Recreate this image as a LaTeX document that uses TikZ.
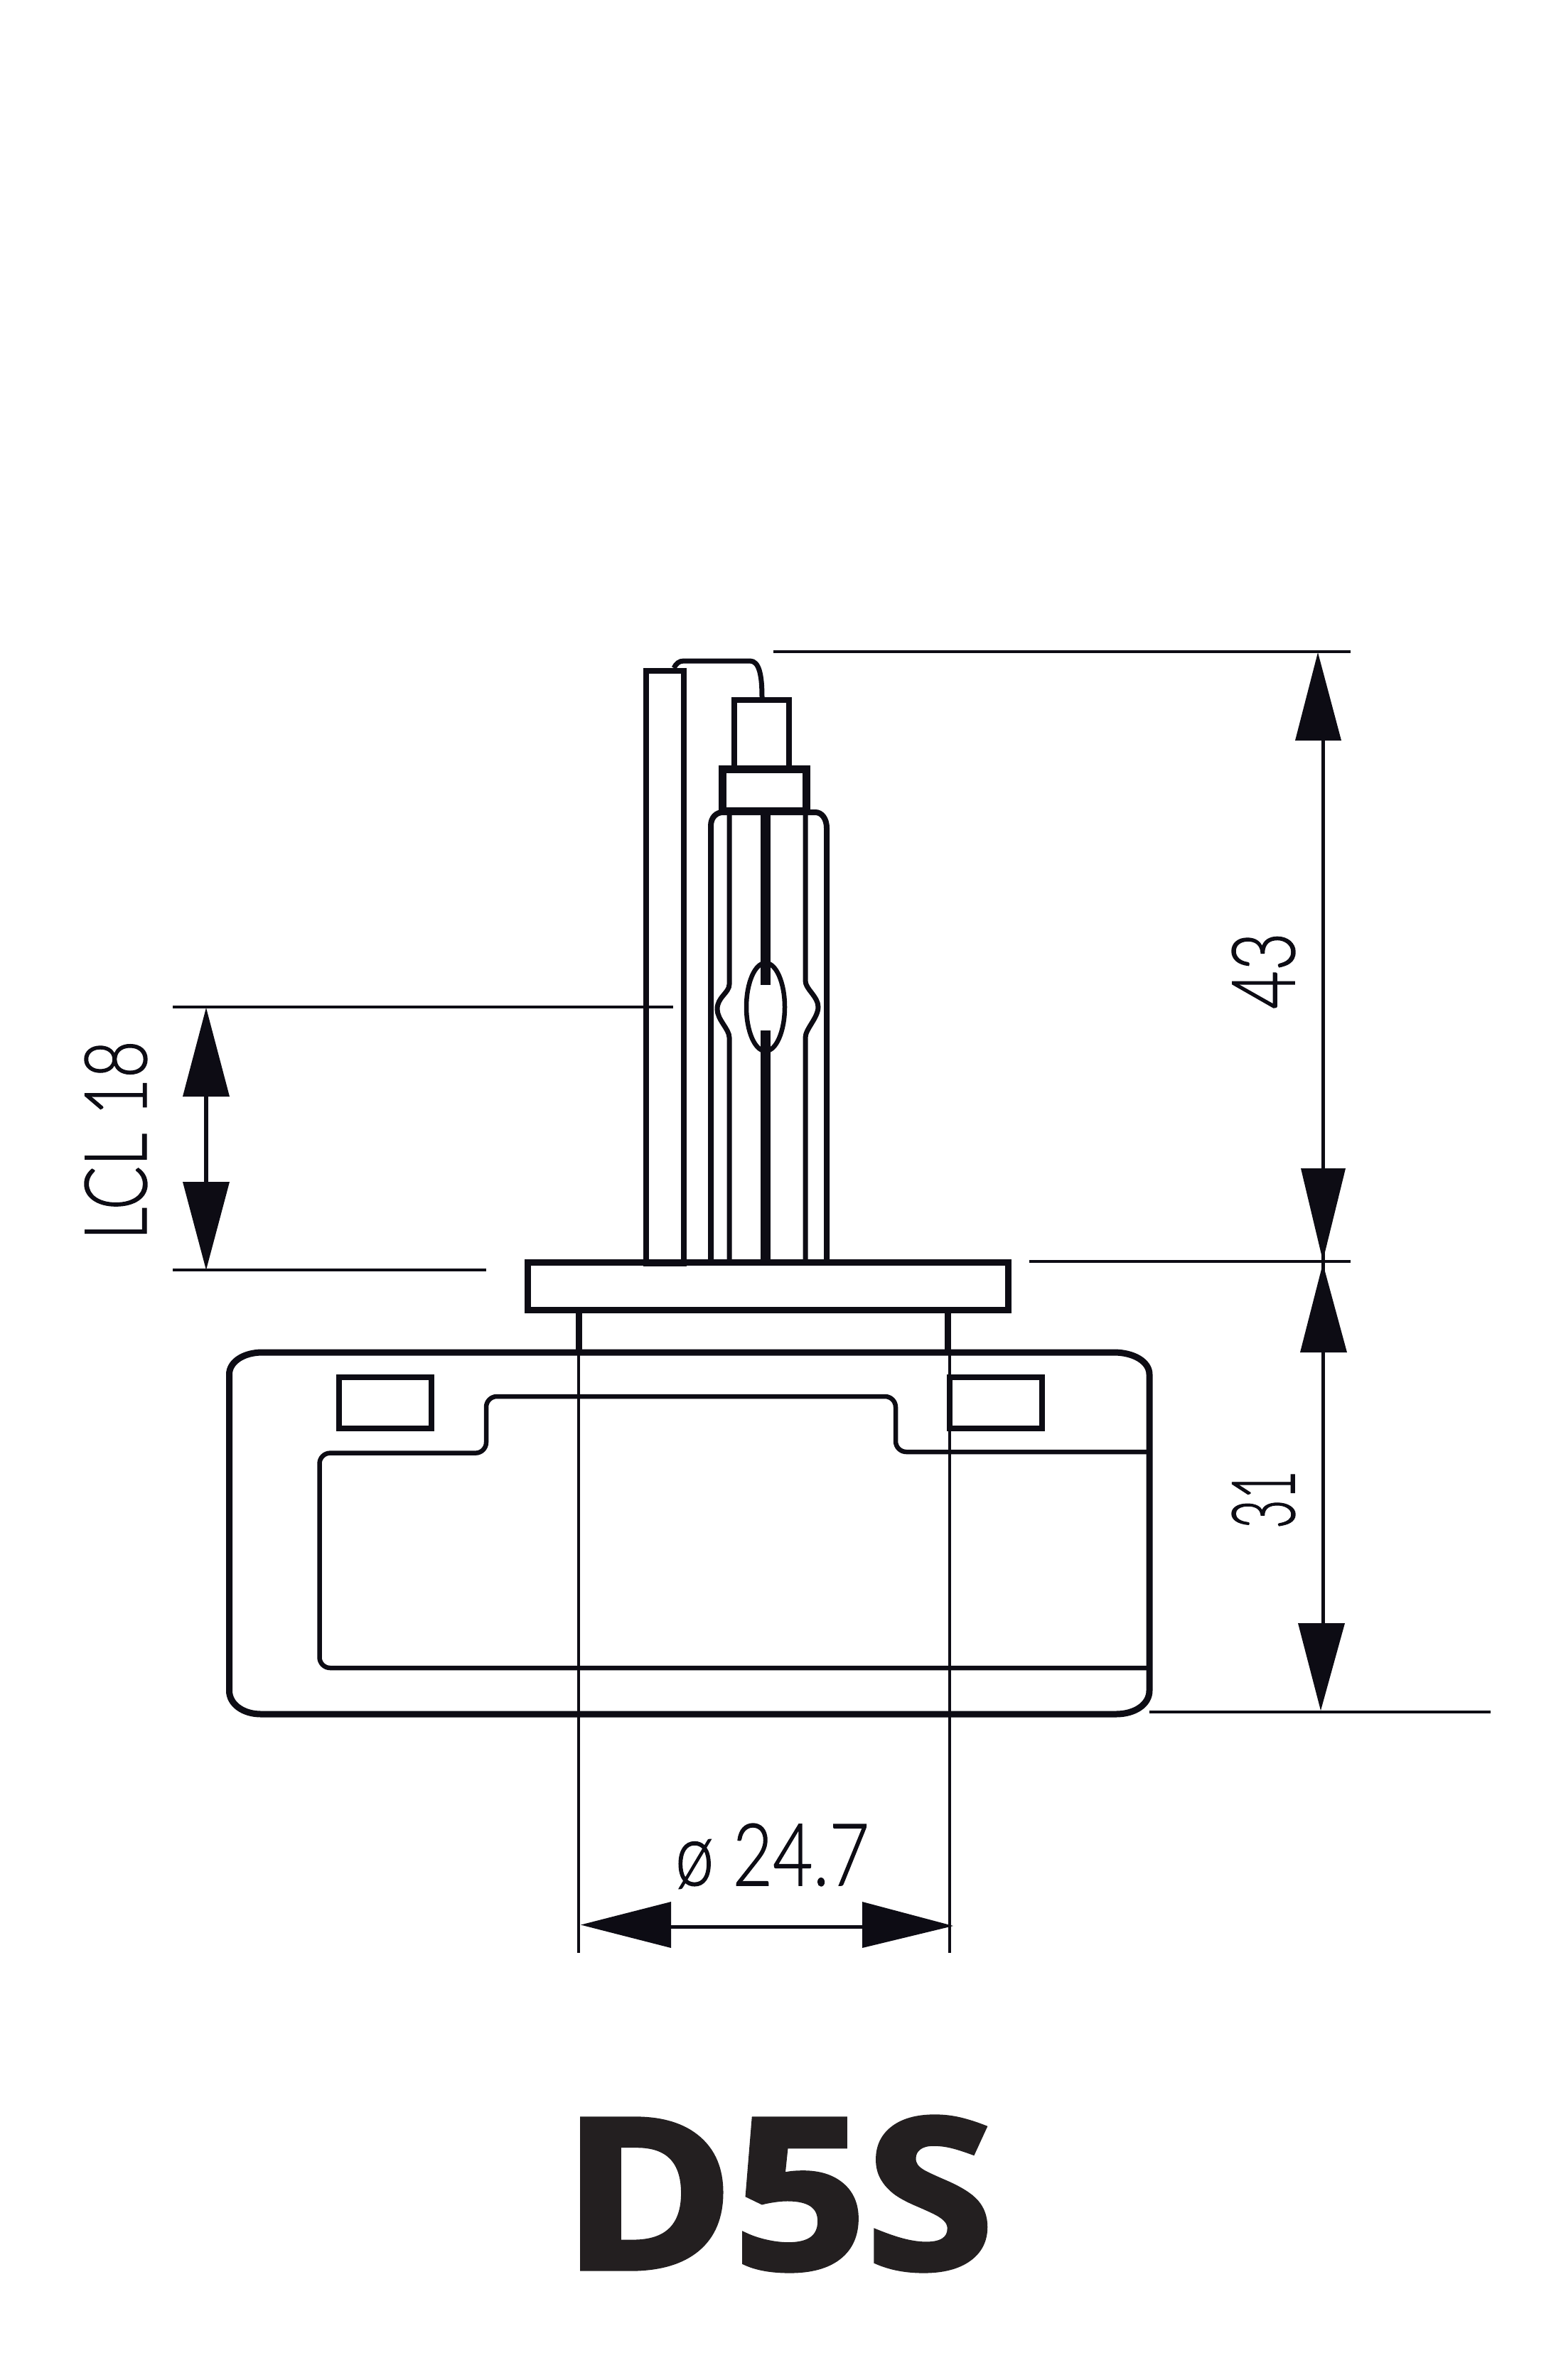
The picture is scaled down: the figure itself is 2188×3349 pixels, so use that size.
\documentclass[tikz,border=0pt]{standalone}
\usepackage{fontspec}
\usepackage{graphicx}
\newfontfamily\dimfont[FakeBold=1.2]{Lato Light}
\newfontfamily\titlefont[BoldFeatures={FakeBold=2.5}]{Open Sans}
\definecolor{ink}{HTML}{0D0C14}
\definecolor{titleink}{HTML}{231F20}
\tikzset{
  part/.style={draw=ink,line cap=butt,line join=miter},
  thick9/.style={part,line width=9pt},
  thick8/.style={part,line width=8pt},
  thin7/.style={part,line width=6.5pt},
  dimline/.style={draw=ink,line width=4.5pt},
  shaft/.style={draw=ink,line width=5pt},
  tipfill/.style={fill=ink,draw=none},
  lbl/.style={inner sep=0pt,outer sep=0pt,text=ink,font=\dimfont\fontsize{100pt}{100pt}\selectfont},
}
\begin{document}
\begin{tikzpicture}[x=1pt,y=-1pt]
\useasboundingbox (0,0) rectangle (2188,3349);
\fill[white] (0,0) rectangle (2188,3349);
% main base
\draw[thick9] (369,1903) -- (1567,1903) .. controls (1595,1903) and (1617,1916) .. (1617,1934) -- (1617,2379) .. controls (1617,2398) and (1597,2412) .. (1570,2412) -- (367,2412) .. controls (342,2412) and (322.5,2398) .. (322.5,2379) -- (322.5,1934) .. controls (322.5,1916) and (343,1903) .. (369,1903) -- cycle;
\draw[thick8] (477,1938) rectangle (606.5,2010);
\draw[thick8] (1335.5,1938) rectangle (1465.5,2010);
\draw[thin7,rounded corners=15pt] (1614,2043) -- (1260,2043) -- (1260,1965) -- (684,1965) -- (684,2044.6) -- (449.5,2044.6) -- (449.5,2347) -- (1614,2347);
% neck and flange
\draw[thick9] (814.5,1848) -- (814.5,1903);
\draw[thick9] (1333.5,1848) -- (1333.5,1903);
\draw[thick9] (742,1776) rectangle (1418,1843);
% shield tube and wire
\draw[thick8] (909,944) rectangle (962,1778);
\draw[part,line width=7pt] (948,940) .. controls (951,934) and (955,930) .. (962,930) -- (1055,930) .. controls (1068,930) and (1072,950) .. (1072,981);
% cap
\draw[part,line width=7.5pt] (1033,1077) -- (1033,985) -- (1110,985) -- (1110,1077);
\draw[part,line width=10.7pt] (1016.5,1082.5) rectangle (1134.5,1141);
% outer bulb
\draw[thick8] (1000,1776) -- (1000,1162) .. controls (1000,1150) and (1008,1143) .. (1017,1143) -- (1147,1143) .. controls (1156,1143) and (1163,1152) .. (1163,1165) -- (1163,1776);
% inner tube
\draw[part,line width=7pt] (1026,1147) -- (1026,1385) .. controls (1026,1397) and (1009,1403) .. (1009,1420) .. controls (1009,1435) and (1026,1448) .. (1026,1460) -- (1026,1776);
\draw[part,line width=7pt] (1133,1147) -- (1133,1380) .. controls (1133,1392) and (1151,1402) .. (1151,1417) .. controls (1151,1432) and (1133,1448) .. (1133,1460) -- (1133,1776);
% electrodes and arc chamber
\draw[part,line width=14pt] (1077,1147) -- (1077,1386);
\draw[part,line width=14pt] (1077,1450) -- (1077,1776);
\draw[thin7] (1077,1417) ellipse [x radius=27,y radius=62];
% measuring lines
\draw[part,line width=4pt] (814,1903) -- (814,2748);
\draw[part,line width=4pt] (1336,1903) -- (1336,2748);
% extension lines
\coordinate (topA) at (1088,917);   \coordinate (topB) at (1900,917);
\coordinate (midA) at (1448,1775);  \coordinate (midB) at (1900,1775);
\coordinate (botA) at (1617,2409);  \coordinate (botB) at (2097,2409);
\coordinate (lclA) at (243,1417);   \coordinate (lclB) at (947,1417);
\coordinate (lclC) at (243,1787);   \coordinate (lclD) at (684,1787);
\draw[dimline] (topA) -- (topB);
\draw[dimline] (midA) -- (midB);
\draw[dimline] (botA) -- (botB);
\draw[dimline,line width=4pt] (lclA) -- (lclB);
\draw[dimline,line width=4pt] (lclC) -- (lclD);
% dimension 43
\coordinate (a43t) at (1861,1042); \coordinate (a43b) at (1861,1644);
\draw[shaft] (a43t) -- (a43b);
\fill[tipfill] (1854,918) -- (1887,1042) -- (1822,1042) -- cycle;
\fill[tipfill] (1861,1774) -- (1893,1644) -- (1830,1644) -- cycle;
% dimension 31
\coordinate (a31t) at (1861,1903); \coordinate (a31b) at (1861,2284);
\draw[shaft] (a31t) -- (a31b);
\draw[shaft] (1861,1760) -- (1861,1790);
\fill[tipfill] (1861,1778) -- (1895,1903) -- (1829,1903) -- cycle;
\fill[tipfill] (1858,2407) -- (1892,2284) -- (1826,2284) -- cycle;
% dimension LCL
\coordinate (lclT) at (290,1543); \coordinate (lclL) at (290,1663);
\draw[shaft,line width=6pt] (lclT) -- (lclL);
\fill[tipfill] (290,1418) -- (323,1543) -- (257,1543) -- cycle;
\fill[tipfill] (290,1787) -- (323,1663) -- (257,1663) -- cycle;
% dimension diameter
\coordinate (dia1) at (944,2711); \coordinate (dia2) at (1213,2711);
\draw[shaft] (dia1) -- (dia2);
\fill[tipfill] (817,2708.5) -- (944,2676) -- (944,2741) -- cycle;
\fill[tipfill] (1341,2710) -- (1213,2676) -- (1213,2741) -- cycle;
% labels
\node[lbl,anchor=base west] (ldia) at (950,2653) {\resizebox{273pt}{87pt}{ø 24.7}};
\node[lbl,anchor=base west,rotate=90] (l43) at (1821,1420) {\resizebox{108pt}{88pt}{43}};
\node[lbl,anchor=base west,rotate=90] (l31) at (1821,2151) {\resizebox{82pt}{88pt}{31}};
\node[lbl,anchor=base west,rotate=90] (llcl) at (206,1745) {\resizebox{281pt}{87pt}{LCL 18}};
\node[inner sep=0pt,outer sep=0pt,anchor=base west,text=titleink,font=\titlefont\bfseries\fontsize{200pt}{200pt}\selectfont] (title) at (791,3192) {\resizebox{607pt}{213pt}{D5S}};
\end{tikzpicture}
\end{document}
